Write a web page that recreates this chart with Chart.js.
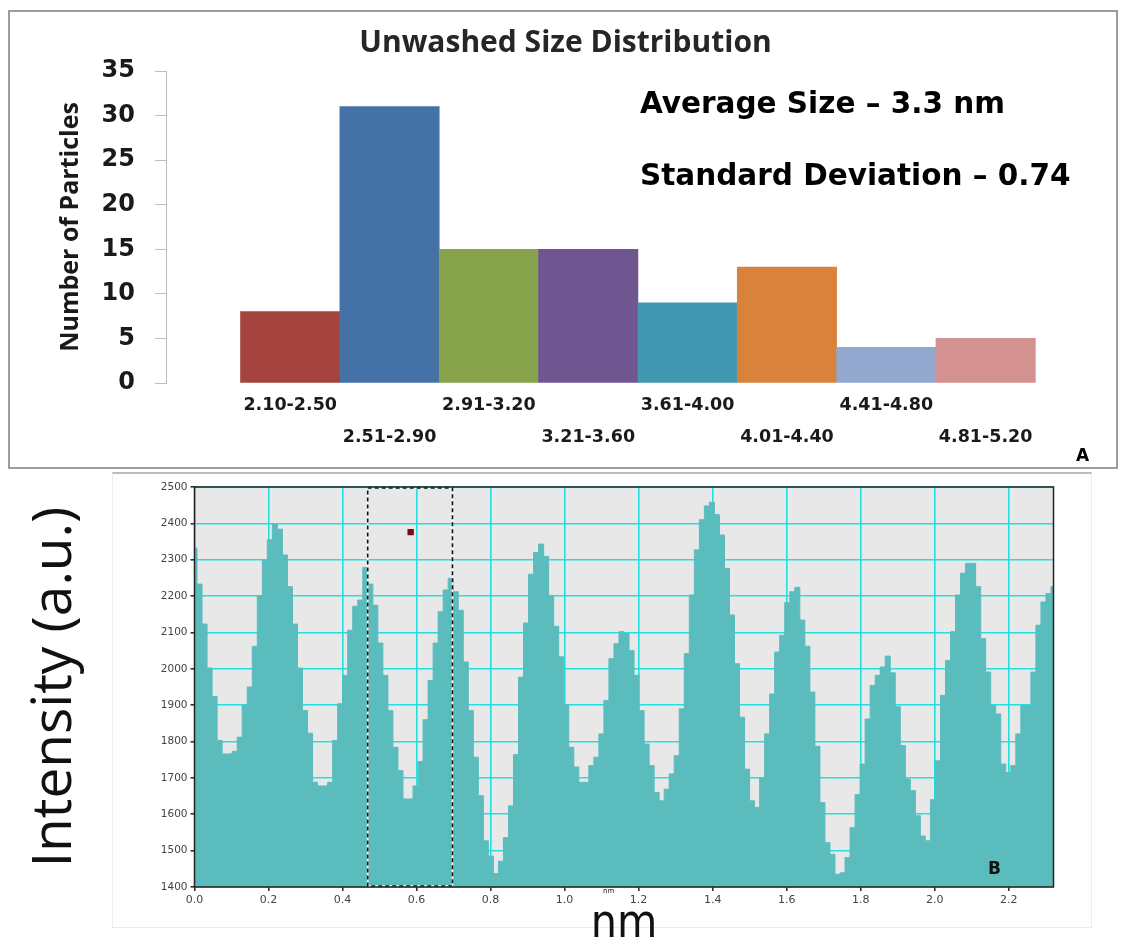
<!DOCTYPE html>
<html>
<head>
<meta charset="utf-8">
<title>Unwashed Size Distribution</title>
<script src="https://cdn.jsdelivr.net/npm/chart.js@4.4.1/dist/chart.umd.min.js"></script>
<style>
  body { margin: 0; background: #fff; width: 1122px; height: 949px; position: relative; overflow: hidden; }
  #panelA { position: absolute; left: 8px; top: 10px; width: 1110px; height: 459px; border: 2px solid #9c9c9c; box-sizing: border-box; }
  #panelB { position: absolute; left: 112px; top: 472px; width: 980px; height: 456px; border: 1px solid #ececec; border-top: 2px solid #bcbcbc; box-sizing: border-box; }
  #sizeChart { position: absolute; left: 0; top: 0; }
  #profileChart { position: absolute; left: 0; top: 470px; }
</style>
</head>
<body>
<div id="panelA"></div>
<div id="panelB"></div>
<canvas id="sizeChart" width="1122" height="470"></canvas>
<canvas id="profileChart" width="1122" height="479"></canvas>
<script>
// size histogram (panel A)
var sizeRanges = ['2.10-2.50', '2.51-2.90', '2.91-3.20', '3.21-3.60', '3.61-4.00', '4.01-4.40', '4.41-4.80', '4.81-5.20'];
var particleCounts = [8, 31, 15, 15, 9, 13, 4, 5];
var barColors = ['#a5443f', '#4471a6', '#87a34c', '#6f5690', '#4197af', '#d9823b', '#93a8ce', '#d39190'];
var statsText = ['Average Size \u2013 3.3 nm', 'Standard Deviation \u2013 0.74'];

// line profile across the lattice fringes (panel B), one value per pixel
var intensity = [
  2332, 2233, 2123, 2002, 1924, 1803, 1766, 1766, 1773, 1812, 1900, 1950, 2062, 2201, 2299, 2355, 2398, 2384, 2313, 2226,
  2123, 2002, 1885, 1823, 1688, 1678, 1678, 1688, 1803, 1904, 1982, 2106, 2172, 2189, 2279, 2233, 2175, 2071, 1982, 1885,
  1784, 1720, 1642, 1642, 1678, 1745, 1860, 1968, 2071, 2157, 2217, 2249, 2212, 2161, 2019, 1885, 1757, 1651, 1527, 1485,
  1437, 1471, 1536, 1623, 1764, 1977, 2126, 2260, 2320, 2343, 2309, 2200, 2117, 2033, 1901, 1784, 1730, 1688, 1688, 1734,
  1757, 1821, 1913, 2028, 2069, 2102, 2097, 2050, 1982, 1885, 1793, 1734, 1660, 1637, 1669, 1711, 1761, 1890, 2042, 2203,
  2327, 2410, 2448, 2458, 2424, 2368, 2276, 2148, 2014, 1867, 1724, 1637, 1619, 1701, 1821, 1931, 2046, 2092, 2182, 2212,
  2224, 2134, 2062, 1936, 1787, 1632, 1522, 1490, 1435, 1439, 1481, 1563, 1654, 1738, 1862, 1954, 1982, 2005, 2035, 1989,
  1896, 1789, 1697, 1665, 1596, 1540, 1527, 1640, 1747, 1927, 2023, 2102, 2203, 2263, 2290, 2290, 2226, 2083, 1991, 1899,
  1876, 1738, 1715, 1734, 1821, 1899, 1899, 1991, 2120, 2184, 2207, 2226
];
var profileLength = 2.321;                             // nm
var pixelSize = profileLength / (intensity.length - 1);  // nm per sample
var selection = { from: 0.468, to: 0.697 };             // nm, dashed box
var marker = [{ x: 0.584, y: 2376 }];

Chart.defaults.font.family = 'DejaVu Sans';

var statsLabels = {
  id: 'statsLabels',
  afterDraw: function (chart) {
    var ctx = chart.ctx;
    ctx.save();
    ctx.fillStyle = '#000';
    ctx.textBaseline = 'middle';
    ctx.font = 'bold 29.5px "DejaVu Sans"';
    ctx.fillText(statsText[0], 640, 105);
    ctx.fillText(statsText[1], 640, 177);
    ctx.font = 'bold 17px "DejaVu Sans"';
    ctx.fillText('A', 1076, 457);
    ctx.restore();
  }
};

new Chart('sizeChart', {
  type: 'bar',
  data: {
    datasets: [{
      data: particleCounts.map(function (n, i) { return { x: i, y: n }; }),
      backgroundColor: barColors,
      borderWidth: 0,
      barPercentage: 1,
      categoryPercentage: 1
    }]
  },
  options: {
    responsive: false,
    animation: false,
    layout: { padding: { left: 46, right: 37, top: 0, bottom: 0 } },
    plugins: {
      legend: { display: false },
      tooltip: { enabled: false },
      title: {
        display: true,
        text: 'Unwashed Size Distribution',
        color: '#262626',
        font: { family: 'Open Sans', size: 30, weight: 'bold', lineHeight: 1.2 },
        padding: { top: 25, bottom: 10 }
      }
    },
    scales: {
      x: {
        type: 'linear',
        min: -1.25,
        max: 8,
        offset: false,
        grid: { display: false },
        border: { display: false },
        afterBuildTicks: function (axis) {
          axis.ticks = sizeRanges.map(function (r, i) { return { value: i }; });
        },
        afterFit: function (axis) { axis.height = 87; },
        ticks: {
          autoSkip: false,
          maxRotation: 0,
          padding: -1,
          color: '#1a1a1a',
          font: { family: 'DejaVu Sans', size: 17.5, weight: 'bold', lineHeight: 1.8 },
          callback: function (v) {
            return v % 2 === 0 ? [sizeRanges[v], ''] : ['', sizeRanges[v]];
          }
        }
      },
      y: {
        min: 0,
        max: 35,
        afterFit: function (axis) { axis.width = 120; },
        grid: { drawOnChartArea: false, tickLength: 11, tickColor: '#bdbdbd' },
        border: { color: '#bdbdbd', width: 1 },
        ticks: {
          stepSize: 5,
          padding: 20,
          color: '#1a1a1a',
          font: { family: 'DejaVu Sans', size: 24, weight: 'bold' }
        },
        title: {
          display: true,
          text: 'Number of Particles',
          color: '#1a1a1a',
          font: { family: 'Open Sans', size: 25, weight: 'bold', lineHeight: 1.2 },
          padding: { top: 10, bottom: 0 }
        }
      }
    }
  },
  plugins: [statsLabels]
});

// grey plot background, black frame, selection box and small labels
var profileDecor = {
  id: 'profileDecor',
  beforeDraw: function (chart) {
    var a = chart.chartArea, ctx = chart.ctx;
    ctx.save();
    ctx.fillStyle = '#e8e8e8';
    ctx.fillRect(a.left, a.top, a.right - a.left, a.bottom - a.top);
    ctx.restore();
  },
  afterDatasetsDraw: function (chart) {
    var a = chart.chartArea, ctx = chart.ctx;
    var xs = chart.scales.x, ys = chart.scales.y;
    var x0 = xs.getPixelForValue(selection.from), x1 = xs.getPixelForValue(selection.to);
    var y0 = ys.getPixelForValue(ys.max), y1 = ys.getPixelForValue(ys.min);
    ctx.save();
    ctx.lineWidth = 1.6;
    ctx.strokeStyle = '#ffffff';
    ctx.strokeRect(x0, y0 + 1, x1 - x0, y1 - y0 - 2);
    ctx.setLineDash([4, 3]);
    ctx.strokeStyle = '#111';
    ctx.strokeRect(x0, y0 + 1, x1 - x0, y1 - y0 - 2);
    ctx.setLineDash([]);
    ctx.lineWidth = 1.5;
    ctx.strokeStyle = '#222';
    ctx.strokeRect(a.left, a.top, a.right - a.left, a.bottom - a.top);
    ctx.fillStyle = '#111';
    ctx.textBaseline = 'middle';
    ctx.font = 'bold 17px "DejaVu Sans"';
    ctx.fillText('B', 988, 400);
    ctx.font = '7px "DejaVu Sans"';
    ctx.fillText('nm', 603, 421);
    ctx.restore();
  }
};

new Chart('profileChart', {
  type: 'line',
  data: {
    datasets: [{
      data: intensity.map(function (v, i) { return { x: i * pixelSize, y: v }; }),
      stepped: 'middle',
      fill: 'start',
      backgroundColor: '#5bbcbd',
      borderColor: '#5bbcbd',
      borderWidth: 1,
      pointRadius: 0
    }, {
      type: 'scatter',
      data: marker,
      pointStyle: 'rect',
      pointRadius: 4.5,
      backgroundColor: '#7b0c0c',
      borderColor: '#7b0c0c',
      borderWidth: 0
    }]
  },
  options: {
    responsive: false,
    animation: false,
    layout: { padding: { left: 18, right: 68.5, top: 17, bottom: 0 } },
    plugins: { legend: { display: false }, tooltip: { enabled: false } },
    scales: {
      x: {
        type: 'linear',
        min: 0,
        max: profileLength,
        afterFit: function (axis) { axis.height = 62; },
        grid: { color: '#22e0e0', lineWidth: 1.6, tickLength: 4, tickColor: '#333' },
        border: { display: false },
        ticks: {
          stepSize: 0.2,
          includeBounds: false,
          padding: 3,
          color: '#444',
          font: { size: 11 },
          callback: function (v) { return v.toFixed(1); }
        },
        title: {
          display: true,
          text: 'nm',
          color: '#111',
          font: { family: 'DejaVu Sans Condensed', size: 46, lineHeight: 1 },
          padding: { top: 0, bottom: 1 }
        }
      },
      y: {
        min: 1400,
        max: 2500,
        afterFit: function (axis) { axis.width = 176.5; },
        grid: { color: '#22e0e0', lineWidth: 1.6, tickLength: 4, tickColor: '#333' },
        border: { display: false },
        ticks: {
          stepSize: 100,
          padding: 3,
          color: '#444',
          font: { size: 10.5 },
          callback: function (v) { return String(v); }
        },
        title: {
          display: true,
          text: 'Intensity (a.u.)',
          color: '#111',
          font: { family: 'Open Sans', size: 55, lineHeight: 1.2 },
          padding: { top: 4, bottom: 0 }
        }
      }
    }
  },
  plugins: [profileDecor]
});
</script>
</body>
</html>
